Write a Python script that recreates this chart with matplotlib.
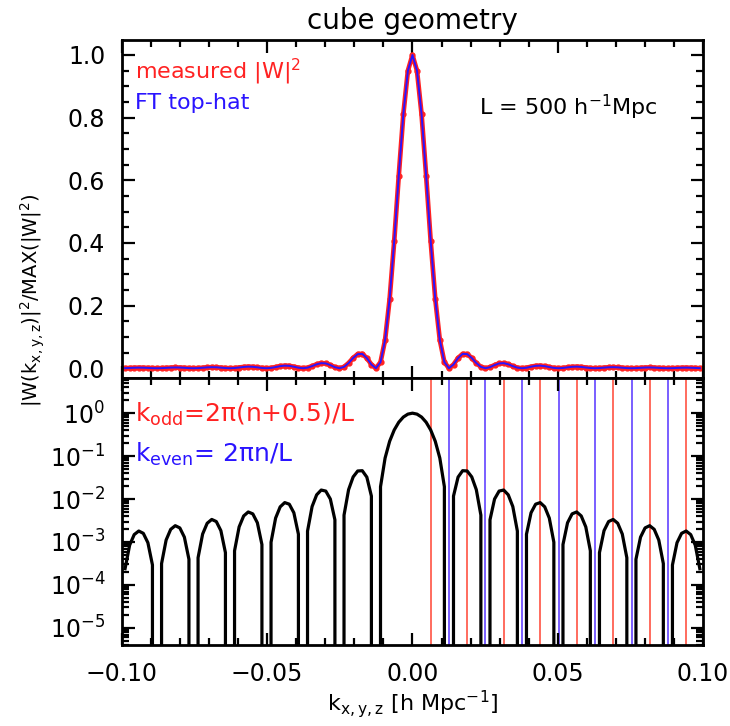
import matplotlib
matplotlib.use("Agg")
import matplotlib.pyplot as plt
import numpy as np
from matplotlib.ticker import MultipleLocator, LogLocator, NullFormatter

plt.rcParams["font.family"] = ["DejaVu Sans"]
plt.rcParams["mathtext.default"] = "regular"

# sampled window, k = m * k_step, m = -63..63
k_step = 0.00157
m_idx = np.arange(-63, 64)
# |W|^2 / max for m = 0..63 (symmetric about k=0)
w2_pos = [1.0, 0.9496, 0.8106, 0.6150, 0.4053, 0.2214, 0.09006, 0.01938,
          0.0, 0.01172, 0.03242, 0.04574, 0.04503, 0.03275, 0.01654, 0.004221,
          0.0, 0.003286, 0.01001, 0.01533, 0.01621, 0.01255, 0.006699, 0.001795,
          0.0, 0.001519, 0.004796, 0.007592, 0.008271, 0.006581, 0.003603, 0.000988,
          0.0, 0.000872, 0.002805, 0.004518, 0.005004, 0.004043, 0.002245, 0.000624,
          0.0, 0.000565, 0.001838, 0.002993, 0.003349, 0.002733, 0.001532, 0.000430,
          0.0, 0.000396, 0.001297, 0.002128, 0.002398, 0.001970, 0.001112, 0.000314,
          0.0, 0.000292, 0.000964, 0.001590, 0.001801, 0.001488, 0.000843, 0.000239]
w2_measured = np.array(w2_pos[:0:-1] + w2_pos)
w2_tophat = np.array(w2_pos[:0:-1] + w2_pos)
k = m_idx * k_step

k_odd = [0.00628, 0.01885, 0.03142, 0.04398, 0.05655, 0.06912, 0.08168, 0.09425]
k_even = [0.01257, 0.02513, 0.03770, 0.05027, 0.06283, 0.07540, 0.08796]

RED = "#FF2222"
BLUE = "#2A14FF"

fig = plt.figure(figsize=(7.3, 7.26), dpi=100)
ax1 = fig.add_axes([0.167, 0.479, 0.796, 0.466])
ax2 = fig.add_axes([0.167, 0.1116, 0.796, 0.3674])

# top panel
ax1.plot(k, w2_measured, color=RED, lw=3.4, marker="o", ms=3.5, zorder=2)
ax1.plot(k, w2_tophat, color=BLUE, lw=1.4, zorder=3)
ax1.set_xlim(-0.1, 0.1)
ax1.set_ylim(-0.032, 1.048)
ax1.yaxis.set_major_locator(MultipleLocator(0.2))
ax1.yaxis.set_minor_locator(MultipleLocator(0.05))
ax1.xaxis.set_major_locator(MultipleLocator(0.05))
ax1.xaxis.set_minor_locator(MultipleLocator(0.01))
ax1.set_xticklabels([])
ax1.set_title("cube geometry", fontsize=20, pad=8)
ax1.text(0.022, 0.905, r"measured |W|$^{2}$", color=RED, fontsize=16,
         transform=ax1.transAxes, va="center")
ax1.text(0.022, 0.815, "FT top-hat", color=BLUE, fontsize=16,
         transform=ax1.transAxes, va="center")
ax1.text(0.615, 0.80, r"L = 500 h$^{-1}$Mpc", color="black", fontsize=16,
         transform=ax1.transAxes, va="center")

# bottom panel
for kv in k_odd:
    ax2.axvline(kv, color="#FF4433", lw=1.1, zorder=1)
for kv in k_even:
    ax2.axvline(kv, color="#5533FF", lw=1.1, zorder=1)
ax2.plot(k, w2_measured, color="black", lw=2.3, zorder=3)
ax2.set_yscale("log", nonpositive="clip")
ax2.set_xlim(-0.1, 0.1)
ax2.set_ylim(4e-6, 6.5)
ax2.xaxis.set_major_locator(MultipleLocator(0.05))
ax2.xaxis.set_minor_locator(MultipleLocator(0.01))
ax2.yaxis.set_major_locator(LogLocator(base=10, numticks=10))
ax2.yaxis.set_minor_locator(LogLocator(base=10, subs=np.arange(2, 10), numticks=10))
ax2.yaxis.set_minor_formatter(NullFormatter())
ax2.xaxis.set_major_formatter(plt.FuncFormatter(lambda v, p: f"{v:.2f}".replace("-", "\u2212")))
ax2.text(0.022, 0.865, r"k$_{odd}$=2$\pi$(n+0.5)/L", color=RED, fontsize=18,
         transform=ax2.transAxes, va="center")
ax2.text(0.022, 0.715, r"k$_{even}$= 2$\pi$n/L", color=BLUE, fontsize=18,
         transform=ax2.transAxes, va="center")
ax2.set_xlabel(r"k$_{x,y,z}$ [h Mpc$^{-1}$]", fontsize=16, labelpad=2)

for ax in (ax1, ax2):
    ax.tick_params(which="both", direction="in", top=True, right=True,
                   labelsize=17, width=1.6)
    ax.tick_params(which="major", length=9)
    ax.tick_params(which="minor", length=5)
    ax.tick_params(axis="y", pad=12)
    ax.tick_params(axis="x", pad=12)
    for s in ax.spines.values():
        s.set_linewidth(2.0)

fig.text(33 / 730, 1 - 300 / 726, r"|W(k$_{x,y,z}$)|$^{2}$/MAX(|W|$^{2}$)",
         rotation=90, fontsize=14, ha="center", va="center")

fig.savefig("out.png", dpi=100)
